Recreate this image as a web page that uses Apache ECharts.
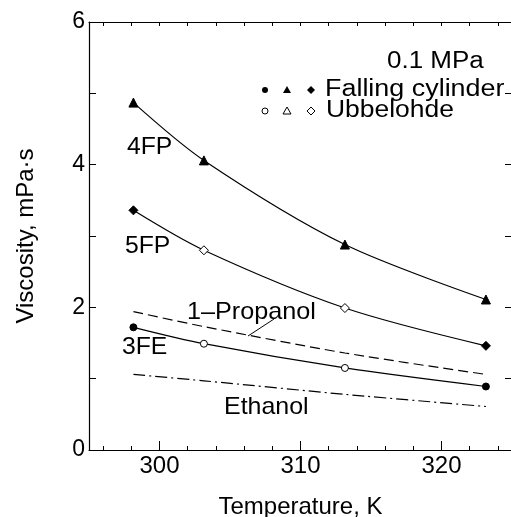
<!DOCTYPE html>
<html>
<head>
<meta charset="utf-8">
<script src="https://cdn.jsdelivr.net/npm/echarts@6/dist/echarts.min.js"></script>
<style>
html,body{margin:0;padding:0;background:#fff;}
#c{width:511px;height:517px;}
</style>
</head>
<body>
<div id="c"></div>
<script>
// ---- data ----
const temps = [298.15, 303.15, 313.15, 323.15];
const fp4 = [4.87, 4.06, 2.88, 2.11];
const fp5 = [3.36, 2.80, 1.99, 1.46];
const fe3 = [1.72, 1.49, 1.15, 0.89];
const propanol = [1.94, 1.73, 1.36, 1.06];
const ethanol = [1.06, 0.97, 0.78, 0.61];
// measurement method per point: F = Falling cylinder, U = Ubbelohde
const fp4Method = ['F', 'F', 'F', 'F'];
const fp5Method = ['F', 'U', 'U', 'F'];
const fe3Method = ['F', 'U', 'U', 'F'];
// tick labels
const xTickLabels = [300, 310, 320];
const xMinorTicks = [296, 298, 300, 302, 304, 306, 308, 310, 312, 314, 316, 318, 320, 322, 324];
const yTickLabels = [0, 2, 4, 6];
const seriesNames = ['4FP', '5FP', '3FE', '1\u2013Propanol', 'Ethanol'];
const legendNames = ['Falling cylinder', 'Ubbelohde'];
const conditionText = '0.1 MPa';

const FONT = 'Liberation Sans, Arial, Helvetica, sans-serif';
const chart = echarts.init(document.getElementById('c'), null, {renderer: 'canvas'});

function pts(vals, methods) {
  return vals.map((v, i) => ({
    value: [temps[i], v],
    itemStyle: methods && methods[i] === 'U'
      ? {color: '#fff', borderColor: '#000', borderWidth: 1}
      : {color: '#000', borderColor: '#000', borderWidth: 1}
  }));
}
function lineSeries(name, vals, methods, symbol, size, lineType) {
  return {
    name: name, type: 'line', xAxisIndex: 0, yAxisIndex: 0,
    data: pts(vals, methods),
    smooth: 0.3,
    symbol: methods ? symbol : 'none',
    showSymbol: !!methods, symbolSize: size,
    lineStyle: {color: '#000', width: 1.2, type: lineType || 'solid'},
    animation: false, z: 3
  };
}
const axisCommon = {
  axisLine: {show: true, lineStyle: {color: '#000', width: 1.2}},
  splitLine: {show: false}
};
function txt(x, y, s, size, sx) {
  return {type: 'text', x: x, y: y, scaleX: sx || 1,
    style: {text: s, font: size + 'px ' + FONT, fill: '#000', verticalAlign: 'middle', align: 'left'}};
}

const option = {
  backgroundColor: '#fff',
  animation: false,
  grid: {left: 89, top: 22, right: -1, bottom: 67, containLabel: false, outerBoundsMode: 'none'},
  xAxis: [
    Object.assign({}, axisCommon, {
      type: 'value', position: 'bottom', min: 295, max: 325,
      axisTick: {show: true, inside: true, length: 4, customValues: xMinorTicks, lineStyle: {color: '#000'}},
      axisLabel: {show: true, customValues: xTickLabels, fontSize: 24, color: '#000', fontFamily: FONT, margin: 4},
      name: 'Temperature, K', nameLocation: 'middle', nameGap: 45,
      nameTextStyle: {fontSize: 24, color: '#000', fontFamily: FONT}
    }),
    {
      type: 'value', position: 'bottom', min: 295, max: 325,
      axisLine: {show: false}, splitLine: {show: false},
      axisTick: {show: true, inside: true, length: 9, customValues: xTickLabels, lineStyle: {color: '#000'}},
      axisLabel: {show: false}
    },
    Object.assign({}, axisCommon, {
      type: 'value', position: 'top', min: 295, max: 325,
      axisTick: {show: true, inside: true, length: 4, customValues: xMinorTicks, lineStyle: {color: '#000'}},
      axisLabel: {show: false}
    })
  ],
  yAxis: [
    Object.assign({}, axisCommon, {
      type: 'value', position: 'left', min: 0, max: 6, interval: 1,
      axisTick: {show: true, inside: true, length: 7, lineStyle: {color: '#000'}},
      axisLabel: {show: true, customValues: yTickLabels, fontSize: 23, color: '#000', fontFamily: FONT, margin: 4},
      name: 'Viscosity, mPa\u00b7s', nameLocation: 'middle', nameGap: 51,
      nameTextStyle: {fontSize: 24, color: '#000', fontFamily: FONT}
    }),
    Object.assign({}, axisCommon, {
      type: 'value', position: 'right', min: 0, max: 6, interval: 1,
      axisTick: {show: true, inside: true, length: 7, lineStyle: {color: '#000'}},
      axisLabel: {show: false}
    })
  ],
  series: [
    lineSeries(seriesNames[0], fp4, fp4Method, 'triangle', 9),
    lineSeries(seriesNames[1], fp5, fp5Method, 'diamond', 9),
    lineSeries(seriesNames[2], fe3, fe3Method, 'circle', 7),
    lineSeries(seriesNames[3], propanol, null, 'none', 0, [10, 5]),
    lineSeries(seriesNames[4], ethanol, null, 'none', 0, [12, 4, 2, 4])
  ],
  graphic: [
    // condition + legend
    txt(387, 62, conditionText, 23, 1.13),
    {type: 'circle', shape: {cx: 265, cy: 90, r: 3}, style: {fill: '#000'}},
    {type: 'polygon', shape: {points: [[287, 86], [291, 93], [283, 93]]}, style: {fill: '#000'}},
    {type: 'polygon', shape: {points: [[311, 86], [315, 90], [311, 94], [307, 90]]}, style: {fill: '#000'}},
    txt(325, 90, legendNames[0], 23, 1.17),
    {type: 'circle', shape: {cx: 265, cy: 111, r: 3}, style: {fill: '#fff', stroke: '#000', lineWidth: 1}},
    {type: 'polygon', shape: {points: [[287, 107], [291, 114], [283, 114]]}, style: {fill: '#fff', stroke: '#000', lineWidth: 1}},
    {type: 'polygon', shape: {points: [[311, 107], [315, 111], [311, 115], [307, 111]]}, style: {fill: '#fff', stroke: '#000', lineWidth: 1}},
    txt(326, 111, legendNames[1], 23, 1.15),
    // curve labels
    txt(127, 147, seriesNames[0], 24, 1.03),
    txt(125, 246, seriesNames[1], 24, 1.03),
    txt(122, 347, seriesNames[2], 24, 1.03),
    txt(187, 312, seriesNames[3], 24, 1.05),
    txt(224, 407, seriesNames[4], 24, 1.04),
    {type: 'line', shape: {x1: 248, y1: 336, x2: 274, y2: 319}, style: {stroke: '#000', lineWidth: 1}}
  ]
};
chart.setOption(option);
</script>
</body>
</html>
